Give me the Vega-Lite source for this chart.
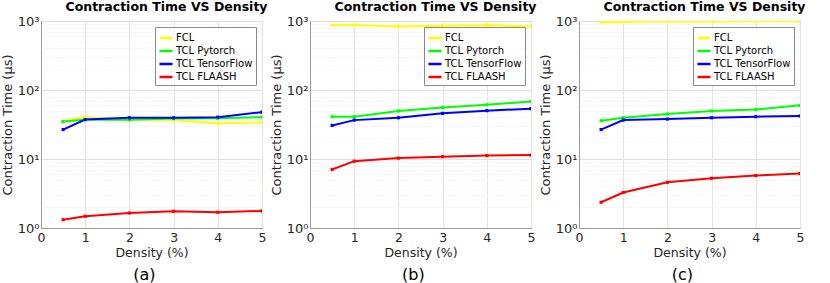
{
  "$schema": "https://vega.github.io/schema/vega-lite/v6.json",
  "padding": {"left": 0, "top": 0, "right": 4, "bottom": 0},
  "config": {
    "font": "DejaVu Sans",
    "view": {"stroke": "#9a9a9a", "strokeWidth": 1},
    "axis": {"labelColor": "#262626", "titleColor": "#262626", "titleFontWeight": "normal", "domainColor": "#9a9a9a", "tickColor": "#9a9a9a"},
    "legend": {"labelColor": "#000000"}
  },
  "datasets": {
    "d": [
      {"panel": "a", "series": "FCL", "density": 0.5, "time": 35},
      {"panel": "a", "series": "FCL", "density": 1, "time": 40.4},
      {"panel": "a", "series": "FCL", "density": 2, "time": 37},
      {"panel": "a", "series": "FCL", "density": 3, "time": 36.5},
      {"panel": "a", "series": "FCL", "density": 4, "time": 33},
      {"panel": "a", "series": "FCL", "density": 5, "time": 33.8},
      {"panel": "a", "series": "TCL Pytorch", "density": 0.5, "time": 34.9},
      {"panel": "a", "series": "TCL Pytorch", "density": 1, "time": 37},
      {"panel": "a", "series": "TCL Pytorch", "density": 2, "time": 37},
      {"panel": "a", "series": "TCL Pytorch", "density": 3, "time": 38.5},
      {"panel": "a", "series": "TCL Pytorch", "density": 4, "time": 39},
      {"panel": "a", "series": "TCL Pytorch", "density": 5, "time": 40.4},
      {"panel": "a", "series": "TCL TensorFlow", "density": 0.5, "time": 26.7},
      {"panel": "a", "series": "TCL TensorFlow", "density": 1, "time": 37.3},
      {"panel": "a", "series": "TCL TensorFlow", "density": 2, "time": 39.5},
      {"panel": "a", "series": "TCL TensorFlow", "density": 3, "time": 39.5},
      {"panel": "a", "series": "TCL TensorFlow", "density": 4, "time": 40.4},
      {"panel": "a", "series": "TCL TensorFlow", "density": 5, "time": 47.7},
      {"panel": "a", "series": "TCL FLAASH", "density": 0.5, "time": 1.32},
      {"panel": "a", "series": "TCL FLAASH", "density": 1, "time": 1.48},
      {"panel": "a", "series": "TCL FLAASH", "density": 2, "time": 1.65},
      {"panel": "a", "series": "TCL FLAASH", "density": 3, "time": 1.75},
      {"panel": "a", "series": "TCL FLAASH", "density": 4, "time": 1.69},
      {"panel": "a", "series": "TCL FLAASH", "density": 5, "time": 1.77},
      {"panel": "b", "series": "FCL", "density": 0.5, "time": 874},
      {"panel": "b", "series": "FCL", "density": 1, "time": 874},
      {"panel": "b", "series": "FCL", "density": 2, "time": 835},
      {"panel": "b", "series": "FCL", "density": 3, "time": 855},
      {"panel": "b", "series": "FCL", "density": 4, "time": 874},
      {"panel": "b", "series": "FCL", "density": 5, "time": 835},
      {"panel": "b", "series": "TCL Pytorch", "density": 0.5, "time": 41},
      {"panel": "b", "series": "TCL Pytorch", "density": 1, "time": 41},
      {"panel": "b", "series": "TCL Pytorch", "density": 2, "time": 49.7},
      {"panel": "b", "series": "TCL Pytorch", "density": 3, "time": 55.6},
      {"panel": "b", "series": "TCL Pytorch", "density": 4, "time": 60.9},
      {"panel": "b", "series": "TCL Pytorch", "density": 5, "time": 68.1},
      {"panel": "b", "series": "TCL TensorFlow", "density": 0.5, "time": 30.6},
      {"panel": "b", "series": "TCL TensorFlow", "density": 1, "time": 36.6},
      {"panel": "b", "series": "TCL TensorFlow", "density": 2, "time": 39.6},
      {"panel": "b", "series": "TCL TensorFlow", "density": 3, "time": 45.9},
      {"panel": "b", "series": "TCL TensorFlow", "density": 4, "time": 50.2},
      {"panel": "b", "series": "TCL TensorFlow", "density": 5, "time": 53.7},
      {"panel": "b", "series": "TCL FLAASH", "density": 0.5, "time": 7.05},
      {"panel": "b", "series": "TCL FLAASH", "density": 1, "time": 9.3},
      {"panel": "b", "series": "TCL FLAASH", "density": 2, "time": 10.3},
      {"panel": "b", "series": "TCL FLAASH", "density": 3, "time": 10.8},
      {"panel": "b", "series": "TCL FLAASH", "density": 4, "time": 11.2},
      {"panel": "b", "series": "TCL FLAASH", "density": 5, "time": 11.4},
      {"panel": "c", "series": "FCL", "density": 0.5, "time": 962},
      {"panel": "c", "series": "FCL", "density": 1, "time": 970},
      {"panel": "c", "series": "FCL", "density": 2, "time": 995},
      {"panel": "c", "series": "FCL", "density": 3, "time": 985},
      {"panel": "c", "series": "FCL", "density": 4, "time": 995},
      {"panel": "c", "series": "FCL", "density": 5, "time": 990},
      {"panel": "c", "series": "TCL Pytorch", "density": 0.5, "time": 35.8},
      {"panel": "c", "series": "TCL Pytorch", "density": 1, "time": 39.6},
      {"panel": "c", "series": "TCL Pytorch", "density": 2, "time": 44.9},
      {"panel": "c", "series": "TCL Pytorch", "density": 3, "time": 49.7},
      {"panel": "c", "series": "TCL Pytorch", "density": 4, "time": 52},
      {"panel": "c", "series": "TCL Pytorch", "density": 5, "time": 60},
      {"panel": "c", "series": "TCL TensorFlow", "density": 0.5, "time": 26.7},
      {"panel": "c", "series": "TCL TensorFlow", "density": 1, "time": 36.6},
      {"panel": "c", "series": "TCL TensorFlow", "density": 2, "time": 37.9},
      {"panel": "c", "series": "TCL TensorFlow", "density": 3, "time": 39.6},
      {"panel": "c", "series": "TCL TensorFlow", "density": 4, "time": 41},
      {"panel": "c", "series": "TCL TensorFlow", "density": 5, "time": 42},
      {"panel": "c", "series": "TCL FLAASH", "density": 0.5, "time": 2.36},
      {"panel": "c", "series": "TCL FLAASH", "density": 1, "time": 3.27},
      {"panel": "c", "series": "TCL FLAASH", "density": 2, "time": 4.6},
      {"panel": "c", "series": "TCL FLAASH", "density": 3, "time": 5.26},
      {"panel": "c", "series": "TCL FLAASH", "density": 4, "time": 5.75},
      {"panel": "c", "series": "TCL FLAASH", "density": 5, "time": 6.15}
    ]
  },
  "spacing": 0,
  "resolve": {"legend": {"color": "independent"}},
  "hconcat": [
    {
      "title": {"text": "(a)", "orient": "bottom", "anchor": "middle", "fontSize": 16, "fontWeight": "normal", "color": "#000", "offset": 7, "dx": 10},
      "resolve": {"legend": {"color": "independent"}},
      "vconcat": [
        {
          "title": {"text": "Contraction Time VS Density", "fontSize": 12.5, "fontWeight": "bold", "color": "#000", "offset": 2, "dx": 15},
          "width": 221, "height": 207,
          "data": {"name": "d"},
          "transform": [{"filter": "datum.panel == 'a'"}],
          "mark": {"type": "line", "strokeWidth": 2, "clip": true, "point": {"shape": "square", "size": 10, "filled": true}},
          "encoding": {
            "x": {"field": "density", "type": "quantitative", "title": "Density (%)", "scale": {"domain": [0, 5], "nice": false},
              "axis": {"values": [0, 1, 2, 3, 4, 5], "labelFontSize": 12.5, "titleFontSize": 12.5, "labelPadding": 3, "titlePadding": 3, "gridColor": "#e3e3e3", "tickSize": 0, "labelFlush": false}},
            "y": {"field": "time", "type": "quantitative", "title": "Contraction Time (µs)", "scale": {"type": "log", "domain": [1, 1000], "nice": false},
              "axis": {"values": [1,2,3,4,5,6,7,8,9,10,20,30,40,50,60,70,80,90,100,200,300,400,500,600,700,800,900,1000],
                "labelExpr": "datum.value == 1 ? '10⁰' : datum.value == 10 ? '10¹' : datum.value == 100 ? '10²' : datum.value == 1000 ? '10³' : ''",
                "labelFontSize": 13, "titleFontSize": 13, "labelPadding": 2, "titlePadding": 3, "tickSize": 0,
                "gridColor": {"condition": {"test": "indexof([1,10,100,1000], datum.value) >= 0", "value": "#e0e0e0"}, "value": "#e6e6e6"},
                "gridDash": {"condition": {"test": "indexof([1,10,100,1000], datum.value) >= 0", "value": []}, "value": [1, 2]}}},
            "color": {"field": "series", "type": "nominal", "sort": ["FCL", "TCL Pytorch", "TCL TensorFlow", "TCL FLAASH"],
              "scale": {"domain": ["FCL", "TCL Pytorch", "TCL TensorFlow", "TCL FLAASH"], "range": ["#ffff00", "#00ff00", "#0000ff", "#ff0000"]},
              "legend": {"title": null, "orient": "top-right", "offset": 6, "strokeColor": "#8a8a8a", "fillColor": "#ffffff", "padding": 3, "labelFontSize": 10, "symbolType": "stroke", "symbolStrokeWidth": 2.5, "symbolSize": 170, "rowPadding": 0, "labelOffset": 2}},
            "order": {"field": "density", "type": "quantitative"}
          }
        }
      ]
    },
    {
      "title": {"text": "(b)", "orient": "bottom", "anchor": "middle", "fontSize": 16, "fontWeight": "normal", "color": "#000", "offset": 7, "dx": 10},
      "resolve": {"legend": {"color": "independent"}},
      "vconcat": [
        {
          "title": {"text": "Contraction Time VS Density", "fontSize": 12.5, "fontWeight": "bold", "color": "#000", "offset": 2, "dx": 15},
          "width": 221, "height": 207,
          "data": {"name": "d"},
          "transform": [{"filter": "datum.panel == 'b'"}],
          "mark": {"type": "line", "strokeWidth": 2, "clip": true, "point": {"shape": "square", "size": 10, "filled": true}},
          "encoding": {
            "x": {"field": "density", "type": "quantitative", "title": "Density (%)", "scale": {"domain": [0, 5], "nice": false},
              "axis": {"values": [0, 1, 2, 3, 4, 5], "labelFontSize": 12.5, "titleFontSize": 12.5, "labelPadding": 3, "titlePadding": 3, "gridColor": "#e3e3e3", "tickSize": 0, "labelFlush": false}},
            "y": {"field": "time", "type": "quantitative", "title": "Contraction Time (µs)", "scale": {"type": "log", "domain": [1, 1000], "nice": false},
              "axis": {"values": [1,2,3,4,5,6,7,8,9,10,20,30,40,50,60,70,80,90,100,200,300,400,500,600,700,800,900,1000],
                "labelExpr": "datum.value == 1 ? '10⁰' : datum.value == 10 ? '10¹' : datum.value == 100 ? '10²' : datum.value == 1000 ? '10³' : ''",
                "labelFontSize": 13, "titleFontSize": 13, "labelPadding": 2, "titlePadding": 3, "tickSize": 0,
                "gridColor": {"condition": {"test": "indexof([1,10,100,1000], datum.value) >= 0", "value": "#e0e0e0"}, "value": "#e6e6e6"},
                "gridDash": {"condition": {"test": "indexof([1,10,100,1000], datum.value) >= 0", "value": []}, "value": [1, 2]}}},
            "color": {"field": "series", "type": "nominal", "sort": ["FCL", "TCL Pytorch", "TCL TensorFlow", "TCL FLAASH"],
              "scale": {"domain": ["FCL", "TCL Pytorch", "TCL TensorFlow", "TCL FLAASH"], "range": ["#ffff00", "#00ff00", "#0000ff", "#ff0000"]},
              "legend": {"title": null, "orient": "top-right", "offset": 6, "strokeColor": "#8a8a8a", "fillColor": "#ffffff", "padding": 3, "labelFontSize": 10, "symbolType": "stroke", "symbolStrokeWidth": 2.5, "symbolSize": 170, "rowPadding": 0, "labelOffset": 2}},
            "order": {"field": "density", "type": "quantitative"}
          }
        }
      ]
    },
    {
      "title": {"text": "(c)", "orient": "bottom", "anchor": "middle", "fontSize": 16, "fontWeight": "normal", "color": "#000", "offset": 7, "dx": 10},
      "resolve": {"legend": {"color": "independent"}},
      "vconcat": [
        {
          "title": {"text": "Contraction Time VS Density", "fontSize": 12.5, "fontWeight": "bold", "color": "#000", "offset": 2, "dx": 15},
          "width": 221, "height": 207,
          "data": {"name": "d"},
          "transform": [{"filter": "datum.panel == 'c'"}],
          "mark": {"type": "line", "strokeWidth": 2, "clip": true, "point": {"shape": "square", "size": 10, "filled": true}},
          "encoding": {
            "x": {"field": "density", "type": "quantitative", "title": "Density (%)", "scale": {"domain": [0, 5], "nice": false},
              "axis": {"values": [0, 1, 2, 3, 4, 5], "labelFontSize": 12.5, "titleFontSize": 12.5, "labelPadding": 3, "titlePadding": 3, "gridColor": "#e3e3e3", "tickSize": 0, "labelFlush": false}},
            "y": {"field": "time", "type": "quantitative", "title": "Contraction Time (µs)", "scale": {"type": "log", "domain": [1, 1000], "nice": false},
              "axis": {"values": [1,2,3,4,5,6,7,8,9,10,20,30,40,50,60,70,80,90,100,200,300,400,500,600,700,800,900,1000],
                "labelExpr": "datum.value == 1 ? '10⁰' : datum.value == 10 ? '10¹' : datum.value == 100 ? '10²' : datum.value == 1000 ? '10³' : ''",
                "labelFontSize": 13, "titleFontSize": 13, "labelPadding": 2, "titlePadding": 3, "tickSize": 0,
                "gridColor": {"condition": {"test": "indexof([1,10,100,1000], datum.value) >= 0", "value": "#e0e0e0"}, "value": "#e6e6e6"},
                "gridDash": {"condition": {"test": "indexof([1,10,100,1000], datum.value) >= 0", "value": []}, "value": [1, 2]}}},
            "color": {"field": "series", "type": "nominal", "sort": ["FCL", "TCL Pytorch", "TCL TensorFlow", "TCL FLAASH"],
              "scale": {"domain": ["FCL", "TCL Pytorch", "TCL TensorFlow", "TCL FLAASH"], "range": ["#ffff00", "#00ff00", "#0000ff", "#ff0000"]},
              "legend": {"title": null, "orient": "top-right", "offset": 6, "strokeColor": "#8a8a8a", "fillColor": "#ffffff", "padding": 3, "labelFontSize": 10, "symbolType": "stroke", "symbolStrokeWidth": 2.5, "symbolSize": 170, "rowPadding": 0, "labelOffset": 2}},
            "order": {"field": "density", "type": "quantitative"}
          }
        }
      ]
    }
  ]
}
